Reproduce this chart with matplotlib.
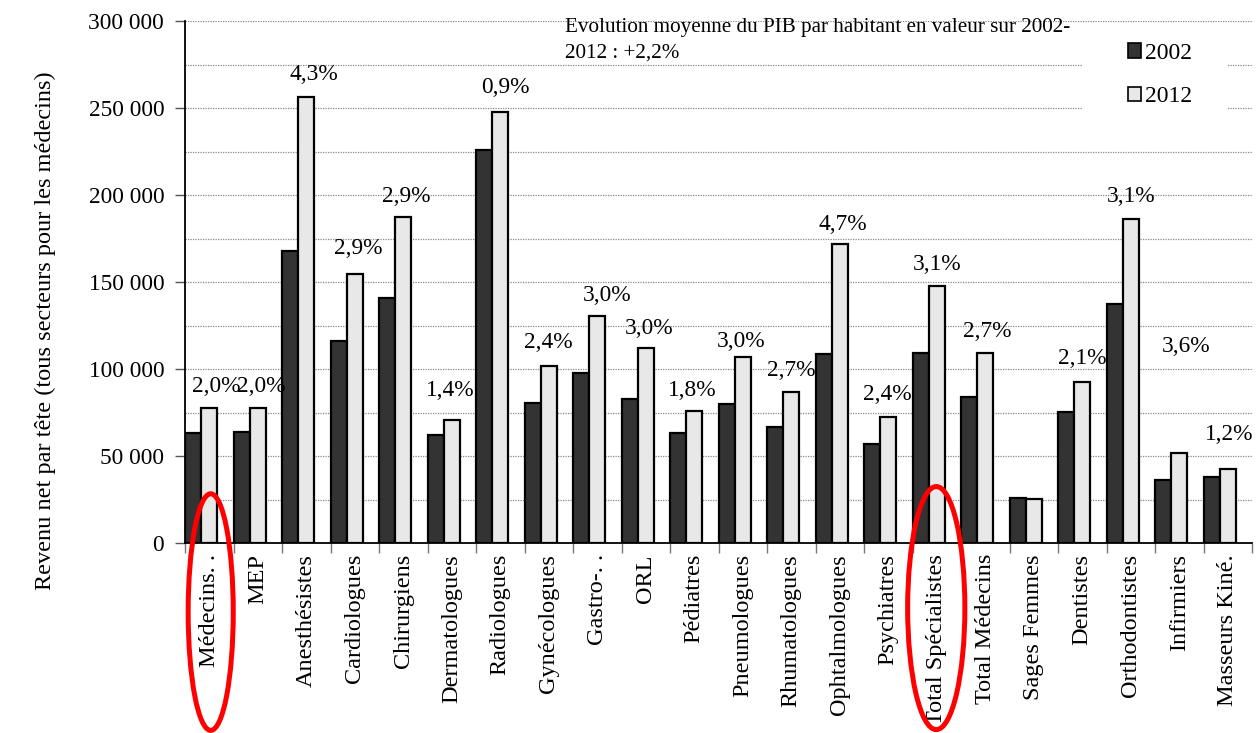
import numpy as np
import matplotlib
matplotlib.use("Agg")
import matplotlib.pyplot as plt
from matplotlib.patches import Ellipse, Rectangle, Patch

plt.rcParams['font.family'] = ['Liberation Serif', 'DejaVu Serif']

# --- data ---
categories = ["Médecins. .", "MEP", "Anesthésistes", "Cardiologues", "Chirurgiens",
              "Dermatologues", "Radiologues", "Gynécologues", "Gastro-. .", "ORL",
              "Pédiatres", "Pneumologues", "Rhumatologues", "Ophtalmologues",
              "Psychiatres", "Total Spécialistes", "Total Médecins", "Sages Femmes",
              "Dentistes", "Orthodontistes", "Infirmiers", "Masseurs Kiné."]
rev_2002 = [63400, 63600, 167800, 116300, 140600, 61900, 225900, 80500, 97900, 82800,
            63200, 79900, 66900, 108600, 56900, 109000, 84000, 26000, 75500, 137400,
            36200, 38100]
rev_2012 = [77800, 77400, 256100, 154600, 187200, 70700, 247900, 101700, 130600, 112000,
            75900, 107000, 87000, 171700, 72200, 147700, 109400, 25300, 92700, 186200,
            51500, 42500]
# average annual growth labels (None = no label) and where they sit
growth = ["2,0%", "2,0%", "4,3%", "2,9%", "2,9%", "1,4%", "0,9%", "2,4%", "3,0%", "3,0%",
          "1,8%", "3,0%", "2,7%", "4,7%", "2,4%", "3,1%", "2,7%", None, "2,1%", "3,1%",
          "3,6%", "1,2%"]
growth_y = [89700, 89700, 269000, 169500, 198900, 87400, 261500, 115500, 142000, 123000,
            87400, 116000, 98900, 183300, 85600, 159800, 121800, None, 106300, 198900,
            113200, 62600]
growth_dx = [0.15, 0.08, 0.15, 0.07, 0.07, -0.04, 0.10, 0.0, 0.2, 0.07,
             -0.05, -0.04, -0.01, 0.07, -0.01, 0.0, 0.04, 0.0, 0.0, 0.0,
             0.14, 0.03]

W, H = 1256, 733
fig = plt.figure(figsize=(W / 100, H / 100), dpi=100)
ax = fig.add_axes([185 / W, 1 - 543 / H, 1067 / W, 522 / H])

n = len(categories)
x = np.arange(n)
bw = 0.33
ax.bar(x - 0.5 + 0.005, rev_2002, width=bw, align='edge', color='#333333',
       edgecolor='black', linewidth=1.6, zorder=3, label='2002')
ax.bar(x - 0.5 + 0.005 + bw, rev_2012, width=bw, align='edge', color='#e8e8e8',
       edgecolor='black', linewidth=1.6, zorder=3, label='2012')

for i, (lab, yv, dx) in enumerate(zip(growth, growth_y, growth_dx)):
    if lab is None:
        continue
    ax.text(i + dx, yv, lab, ha='center', va='center', fontsize=16.8, zorder=5)

# axes
ax.set_xlim(-0.5, n - 0.5)
ax.set_ylim(0, 300000)
ax.set_yticks(np.arange(0, 300001, 50000))
ax.set_yticks(np.arange(25000, 300001, 50000), minor=True)
ax.set_yticklabels(["0"] + ["%d 000" % (v // 1000) for v in range(50000, 300001, 50000)],
                   fontsize=16.8)
ax.tick_params(axis='y', which='major', length=7, width=1, color='#555555', pad=8)
ax.tick_params(axis='y', which='minor', length=0)
ax.yaxis.grid(True, which='both', linestyle=(0, (1, 1)), color='#888888', linewidth=0.9, zorder=0)
ax.set_axisbelow(True)

ax.set_xticks(x)
ax.set_xticklabels(categories, rotation=90, fontsize=17.5)
ax.set_xticks(np.arange(-0.5, n, 1.0), minor=True)
ax.tick_params(axis='x', which='major', length=0, pad=8)
ax.tick_params(axis='x', which='minor', length=7, width=1, color='#777777')
for s in ['top', 'right']:
    ax.spines[s].set_visible(False)
ax.spines['left'].set_linewidth(1.3)
ax.spines['bottom'].set_linewidth(1.3)

fig.text(45 / W, 1 - 331 / H, "Revenu net par tête (tous secteurs pour les médecins)",
         rotation=90, ha='center', va='center', fontsize=17.5)

fig.text(565 / W, 1 - 18 / H,
         "Evolution moyenne du PIB par habitant en valeur sur 2002-\n2012 : +2,2%",
         ha='left', va='top', fontsize=15.2, linespacing=1.45)

# legend on a white patch
ax.add_patch(Rectangle(((1083 - 185) / 1067, 1 - (115 - 21) / 522), 144 / 1067, 85 / 522,
                       transform=ax.transAxes, facecolor='white', edgecolor='none', zorder=4))
handles = [Patch(facecolor='#333333', edgecolor='black', linewidth=1.2),
           Patch(facecolor='#e8e8e8', edgecolor='black', linewidth=1.2)]
leg = ax.legend(handles, ['2002', '2012'], loc='center',
                bbox_to_anchor=(1160 / W, 1 - 75 / H), bbox_transform=fig.transFigure,
                frameon=False, fontsize=17, handlelength=0.55, handleheight=0.55,
                handletextpad=0.15, labelspacing=0.95)
leg.set_zorder(6)

# red highlight ellipses
for cx, cy, ew, eh in [(0.03, -39700, 0.93, 136000), (14.99, -37400, 1.18, 139700)]:
    ax.add_patch(Ellipse((cx, cy), ew, eh, fill=False, edgecolor='red', linewidth=3.6,
                         clip_on=False, zorder=7))

fig.savefig("out.png", dpi=100)
